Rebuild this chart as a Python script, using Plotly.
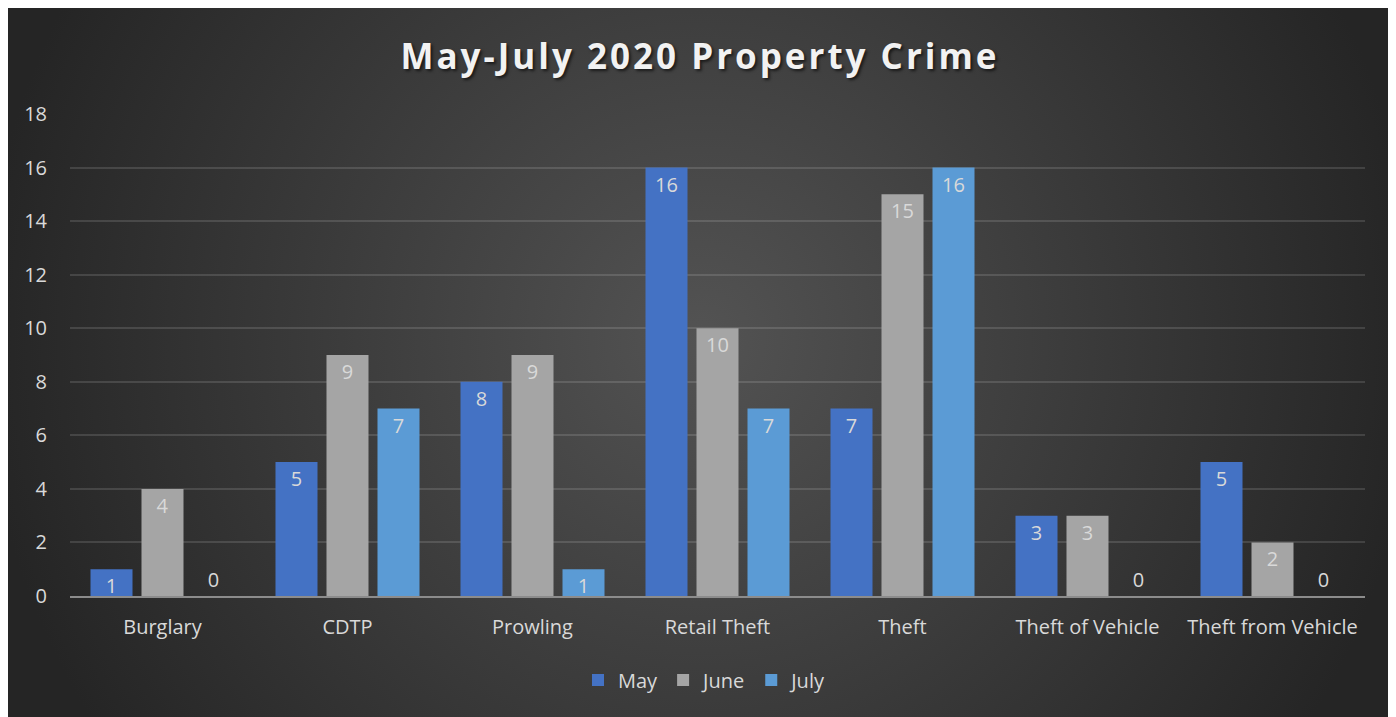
import base64
import plotly.graph_objects as go

categories = ["Burglary", "CDTP", "Prowling", "Retail Theft", "Theft",
              "Theft of Vehicle", "Theft from Vehicle"]
may = [1, 5, 8, 16, 7, 3, 5]
june = [4, 9, 9, 10, 15, 3, 2]
july = [0, 7, 1, 7, 16, 0, 0]
series = [("May", may, "#4472c4"), ("June", june, "#a5a5a5"), ("July", july, "#5b9bd5")]

# page has an 8px body margin, so the figure starts at (8, 8)
OFF = 8
W, H = 1386, 709
ML = 70 - OFF
MT = 114 - OFF
MR = W - (1365 - OFF)
MB = H - (596 - OFF)
PW, PH = W - ML - MR, H - MT - MB

svg = '''<svg xmlns="http://www.w3.org/2000/svg" width="1386" height="709" viewBox="0 0 1386 709" preserveAspectRatio="none">
<defs><radialGradient id="g" gradientUnits="userSpaceOnUse" cx="693" cy="330" r="720">
<stop offset="0" stop-color="#535353"/><stop offset="1" stop-color="#252525"/></radialGradient></defs>
<rect x="0" y="0" width="1386" height="709" fill="url(#g)"/></svg>'''
src = "data:image/svg+xml;base64," + base64.b64encode(svg.encode()).decode()

fig = go.Figure()
for name, vals, color in series:
    fig.add_trace(go.Bar(
        name=name, x=categories, y=vals,
        marker=dict(color=color, line=dict(width=0)),
        text=[str(v) for v in vals],
        textposition=["outside" if v == 0 else "inside" for v in vals],
        insidetextanchor="end",
        constraintext="none",
        textangle=0,
        textfont=dict(family="Open Sans", size=20, color="#d9d9d9"),
        cliponaxis=False,
    ))

x0 = -ML / PW
x1 = (W - ML) / PW
ytop = (MT + PH) / PH
ybot = -MB / PH

fig.update_layout(
    width=W, height=H,
    margin=dict(l=ML, r=MR, t=MT, b=MB),
    paper_bgcolor="#2a2a2a",
    plot_bgcolor="rgba(0,0,0,0)",
    barmode="group", bargap=0.173, bargroupgap=0.176,
    font=dict(family="Open Sans", color="#d9d9d9"),
    title=dict(
        text='<span style="letter-spacing:3px">May-July 2020 Property Crime</span>',
        x=(700 - OFF) / W, xref="container", xanchor="center",
        y=(H - (57 - OFF)) / H, yref="container", yanchor="middle",
        font=dict(family="Open Sans", size=35, weight="bold", color="#f2f2f2",
                  shadow="2px 2px 3px rgba(0,0,0,0.6)"),
    ),
    images=[dict(source=src, xref="paper", yref="paper", x=x0, y=ytop,
                 sizex=x1 - x0, sizey=ytop - ybot, sizing="stretch",
                 xanchor="left", yanchor="top", layer="below")],
    legend=dict(orientation="h", x=(705 - 70) / PW, xanchor="center",
                y=(596 - 680) / PH, yanchor="middle",
                font=dict(family="Open Sans", size=20, color="#d9d9d9"),
                bgcolor="rgba(0,0,0,0)", itemwidth=30, traceorder="normal"),
    xaxis=dict(showgrid=False, showline=True, linecolor="#8c8c8c", linewidth=2,
               tickfont=dict(family="Open Sans", size=20, color="#d9d9d9"),
               ticks="", ticklabelstandoff=12, fixedrange=True),
    yaxis=dict(range=[0, 18], dtick=2, showgrid=True,
               gridcolor="rgba(255,255,255,0.13)", gridwidth=1.5,
               zeroline=False, showline=False,
               tickfont=dict(family="Open Sans", size=20, color="#d9d9d9"),
               ticks="", ticklabelstandoff=22, fixedrange=True),
    showlegend=True,
)

fig.write_html("out.html")
